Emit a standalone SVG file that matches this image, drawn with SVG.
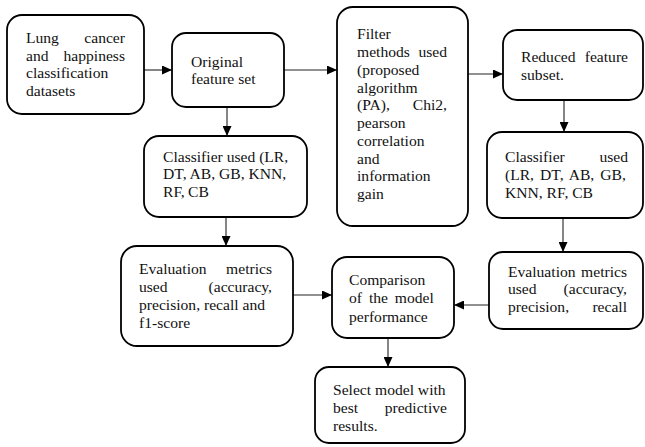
<svg xmlns="http://www.w3.org/2000/svg" width="645" height="447" viewBox="0 0 645 447">
<style>
.box{fill:#fff;stroke:#000;stroke-width:1.8}
text{font-family:"Liberation Serif","Times New Roman",serif;font-size:15.6px;fill:#111}
.e{text-anchor:end}
.c{stroke:#222;stroke-width:1.1;fill:none;marker-end:url(#ah)}
</style>
<defs>
<marker id="ah" markerUnits="userSpaceOnUse" markerWidth="10" markerHeight="9" refX="10" refY="4.5" orient="auto">
<path d="M0,0 L10,4.5 L0,9 z" fill="#000"/>
</marker>
</defs>
<rect width="645" height="447" fill="#fff"/>
<g id="connectors">
<line class="c" x1="144" y1="70" x2="172" y2="70"/>
<line class="c" x1="284" y1="70" x2="337" y2="70"/>
<line class="c" x1="468" y1="74" x2="503" y2="74"/>
<line class="c" x1="564" y1="100" x2="564" y2="132"/>
<line class="c" x1="227" y1="107" x2="227" y2="136"/>
<line class="c" x1="226" y1="217" x2="226" y2="246"/>
<line class="c" x1="293" y1="295" x2="332" y2="295"/>
<line class="c" x1="563" y1="218" x2="563" y2="252"/>
<line class="c" x1="489" y1="305" x2="454" y2="305"/>
<line class="c" x1="388" y1="338" x2="388" y2="367"/>
</g>
<g id="datasets">
<rect class="box" x="7" y="15" width="137" height="99" rx="15"/>
<text x="26" y="43">Lung</text><text class="e" x="125" y="43">cancer</text>
<text x="26" y="61">and</text><text class="e" x="125" y="61">happiness</text>
<text x="26" y="78">classification</text>
<text x="26" y="96">datasets</text>
</g>
<g id="original">
<rect class="box" x="172" y="33" width="112" height="74" rx="14"/>
<text x="191" y="67">Original</text>
<text x="191" y="84">feature set</text>
</g>
<g id="filter">
<rect class="box" x="337" y="7" width="131" height="219" rx="16"/>
<text x="357" y="39.3">Filter</text>
<text x="357" y="57">methods</text><text class="e" x="447" y="57">used</text>
<text x="357" y="74.8">(proposed</text>
<text x="357" y="92.5">algorithm</text>
<text x="357" y="110.3">(PA),</text><text class="e" x="447" y="110.3">Chi2,</text>
<text x="357" y="128">pearson</text>
<text x="357" y="145.8">correlation</text>
<text x="357" y="163.5">and</text>
<text x="357" y="181.3">information</text>
<text x="357" y="199">gain</text>
</g>
<g id="reduced">
<rect class="box" x="503" y="30" width="140" height="70" rx="14"/>
<text x="521" y="62">Reduced</text><text class="e" x="628" y="62">feature</text>
<text x="521" y="80">subset.</text>
</g>
<g id="classifier-right">
<rect class="box" x="487" y="132" width="156" height="86" rx="15"/>
<text x="505" y="162">Classifier</text><text class="e" x="628" y="162">used</text>
<text x="505" y="180" word-spacing="2.1">(LR, DT, AB, GB,</text>
<text x="505" y="198">KNN, RF, CB</text>
</g>
<g id="classifier-left">
<rect class="box" x="144" y="136" width="163" height="81" rx="15"/>
<text x="163" y="162">Classifier used (LR,</text>
<text x="163" y="179">DT, AB, GB, KNN,</text>
<text x="163" y="197">RF,</text><text x="188" y="197">CB</text>
</g>
<g id="eval-left">
<rect class="box" x="121" y="246" width="172" height="100" rx="16"/>
<text x="139" y="274">Evaluation</text><text class="e" x="272" y="274">metrics</text>
<text x="139" y="292">used</text><text class="e" x="272" y="292">(accuracy,</text>
<text x="139" y="310">precision, recall and</text>
<text x="139" y="328">f1-score</text>
</g>
<g id="comparison">
<rect class="box" x="332" y="257" width="122" height="81" rx="15"/>
<text x="349" y="285">Comparison</text>
<text x="349" y="303" word-spacing="3">of the model</text>
<text x="349" y="322">performance</text>
</g>
<g id="eval-right">
<rect class="box" x="489" y="252" width="154" height="77" rx="14"/>
<text x="508" y="277">Evaluation</text><text class="e" x="627" y="277">metrics</text>
<text x="508" y="294">used</text><text class="e" x="627" y="294">(accuracy,</text>
<text x="508" y="312">precision,</text><text class="e" x="627" y="312">recall</text>
</g>
<g id="select">
<rect class="box" x="315" y="367" width="150" height="76" rx="14"/>
<text x="333" y="395">Select model with</text>
<text x="333" y="413">best</text><text class="e" x="447" y="413">predictive</text>
<text x="333" y="431">results.</text>
</g>
</svg>
